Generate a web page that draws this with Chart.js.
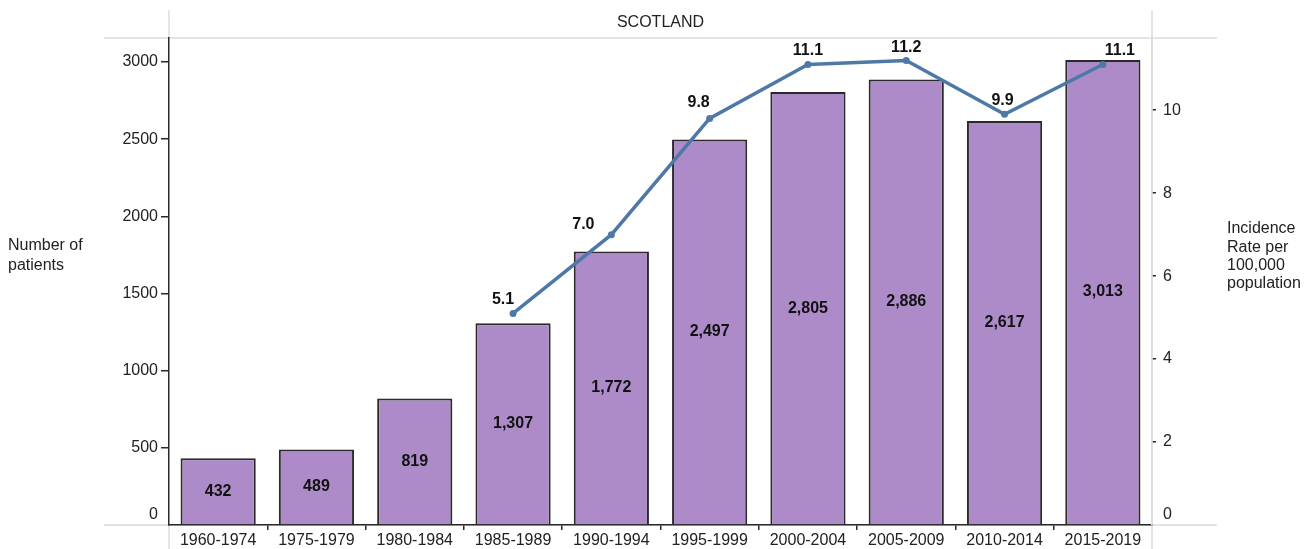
<!DOCTYPE html>
<html>
<head>
<meta charset="utf-8">
<title>Scotland – patients and incidence rate</title>
<script src="https://cdn.jsdelivr.net/npm/chart.js@4.4.1/dist/chart.umd.min.js"></script>
<style>
  html, body { margin: 0; padding: 0; background: #ffffff; }
  #wrap { width: 1311px; height: 549px; }
</style>
</head>
<body>
<div id="wrap"><canvas id="chart" width="1311" height="549"></canvas></div>
<script>
/* ---- data ---- */
const periods = ['1960-1974', '1975-1979', '1980-1984', '1985-1989', '1990-1994',
                 '1995-1999', '2000-2004', '2005-2009', '2010-2014', '2015-2019'];
const patients = [432, 489, 819, 1307, 1772, 2497, 2805, 2886, 2617, 3013];
const incidenceRate = [null, null, null, 5.1, 7.0, 9.8, 11.1, 11.2, 9.9, 11.1];
const patientTicks = [0, 500, 1000, 1500, 2000, 2500, 3000];
const rateTicks = [0, 2, 4, 6, 8, 10];

/* ---- look ---- */
const COLORS = {
  bar: '#ad8bc8',
  barEdge: '#2a2a2a',
  line: '#4e79a7',
  axis: '#2a2a2a',
  frame: '#dcdcdc',
  text: '#222222',
  value: '#111111'
};
const FONT = "Arial, 'Liberation Sans', sans-serif";
const CLEAR = 'rgba(0,0,0,0)';

// label nudges for the rate values so they sit clear of the line
const rateLabelNudge = [null, null, null, [-10, -14], [-28, -10], [-11, -16],
                        [0, -14], [0, -13], [-2, -14], [17, -14]];

const framePlugin = {
  id: 'framePlugin',
  beforeDraw(chart) {
    const { ctx, chartArea: a } = chart;
    ctx.save();
    ctx.strokeStyle = COLORS.frame;
    ctx.lineWidth = 1.5;
    ctx.beginPath();
    // header separator and baseline rule
    ctx.moveTo(104, a.top); ctx.lineTo(1217, a.top);
    ctx.moveTo(104, a.bottom); ctx.lineTo(1217, a.bottom);
    // pane dividers
    ctx.moveTo(a.left, 10); ctx.lineTo(a.left, a.top);
    ctx.moveTo(a.left, a.bottom); ctx.lineTo(a.left, chart.height);
    ctx.moveTo(a.right, 10); ctx.lineTo(a.right, chart.height);
    ctx.stroke();

    ctx.fillStyle = COLORS.text;
    ctx.font = '16px ' + FONT;
    ctx.textAlign = 'center';
    ctx.textBaseline = 'middle';
    ctx.fillText('SCOTLAND', (a.left + a.right) / 2, 23);

    // axis titles
    ctx.textAlign = 'left';
    ctx.fillText('Number of', 8, 246);
    ctx.fillText('patients', 8, 266);
    ['Incidence', 'Rate per', '100,000', 'population'].forEach((t, i) => {
      ctx.fillText(t, 1227, 229 + i * 18.3);
    });
    ctx.restore();
  },
  afterDatasetsDraw(chart) {
    const { ctx } = chart;
    const yL = chart.scales.y, yR = chart.scales.y1;
    ctx.save();
    // tick labels, the zero label lifted off the baseline
    ctx.fillStyle = COLORS.text;
    ctx.font = '16px ' + FONT;
    ctx.textBaseline = 'middle';
    ctx.textAlign = 'right';
    patientTicks.forEach(v => {
      const y = yL.getPixelForValue(v) - (v === 0 ? 10 : 0);
      ctx.fillText(String(v), 158, y);
    });
    ctx.textAlign = 'left';
    rateTicks.forEach(v => {
      const y = yR.getPixelForValue(v) - (v === 0 ? 10 : 0);
      ctx.fillText(String(v), 1163, y);
    });

    // values inside bars
    ctx.fillStyle = COLORS.value;
    ctx.font = 'bold 16px ' + FONT;
    ctx.textAlign = 'center';
    chart.getDatasetMeta(1).data.forEach((bar, i) => {
      const mid = (bar.y + bar.base) / 2;
      ctx.fillText(patients[i].toLocaleString('en-GB'), bar.x, mid);
    });

    // rate values over the line
    chart.getDatasetMeta(0).data.forEach((pt, i) => {
      if (incidenceRate[i] == null) return;
      const [dx, dy] = rateLabelNudge[i];
      ctx.fillText(incidenceRate[i].toFixed(1), pt.x + dx, pt.y + dy);
    });
    ctx.restore();
  }
};

const keepTicks = list => scale => {
  scale.ticks = list.map(v => ({ value: v }));
};

new Chart(document.getElementById('chart'), {
  data: {
    labels: periods,
    datasets: [
      {
        type: 'line',
        label: 'Incidence rate per 100,000',
        data: incidenceRate,
        yAxisID: 'y1',
        order: 0,
        borderColor: COLORS.line,
        backgroundColor: COLORS.line,
        borderWidth: 3.5,
        pointRadius: 3.5,
        pointBorderWidth: 0,
        tension: 0
      },
      {
        type: 'bar',
        label: 'Number of patients',
        data: patients,
        yAxisID: 'y',
        order: 1,
        backgroundColor: COLORS.bar,
        borderColor: COLORS.barEdge,
        borderWidth: 2,
        barPercentage: 0.765,
        categoryPercentage: 1
      }
    ]
  },
  options: {
    responsive: false,
    animation: false,
    layout: { padding: { top: 38, left: 0, right: 0, bottom: 0 } },
    plugins: { legend: { display: false }, tooltip: { enabled: false } },
    scales: {
      x: {
        z: 1,
        offset: true,
        grid: {
          offset: true,
          drawOnChartArea: false,
          tickLength: 5,
          lineWidth: 1.5,
          // only the dividers between periods get a tick, not the two ends
          color: c => (c.type !== 'tick' || c.index === 0 ? CLEAR : COLORS.axis)
        },
        border: { color: COLORS.axis, width: 1.5 },
        ticks: { color: COLORS.text, font: { family: FONT, size: 16 }, padding: 1, maxRotation: 0, autoSkip: false },
        afterFit(scale) { scale.height = 24; }
      },
      y: {
        position: 'left',
        min: 0,
        max: 3155,
        afterBuildTicks: keepTicks(patientTicks),
        grid: {
          drawOnChartArea: false,
          tickLength: 8,
          lineWidth: 1.5,
          color: c => (c.tick && c.tick.value === 0 ? CLEAR : COLORS.axis)
        },
        border: { color: COLORS.axis, width: 1.5 },
        ticks: { display: false },
        afterFit(scale) { scale.width = 169; }
      },
      y1: {
        position: 'right',
        min: 0,
        max: 11.74,
        afterBuildTicks: keepTicks(rateTicks),
        grid: {
          drawOnChartArea: false,
          tickLength: 4,
          lineWidth: 1.5,
          color: c => (c.tick && c.tick.value === 0 ? CLEAR : COLORS.axis)
        },
        border: { color: COLORS.frame, width: 1.5 },
        ticks: { display: false },
        afterFit(scale) { scale.width = 159; }
      }
    }
  },
  plugins: [framePlugin]
});
</script>
</body>
</html>
